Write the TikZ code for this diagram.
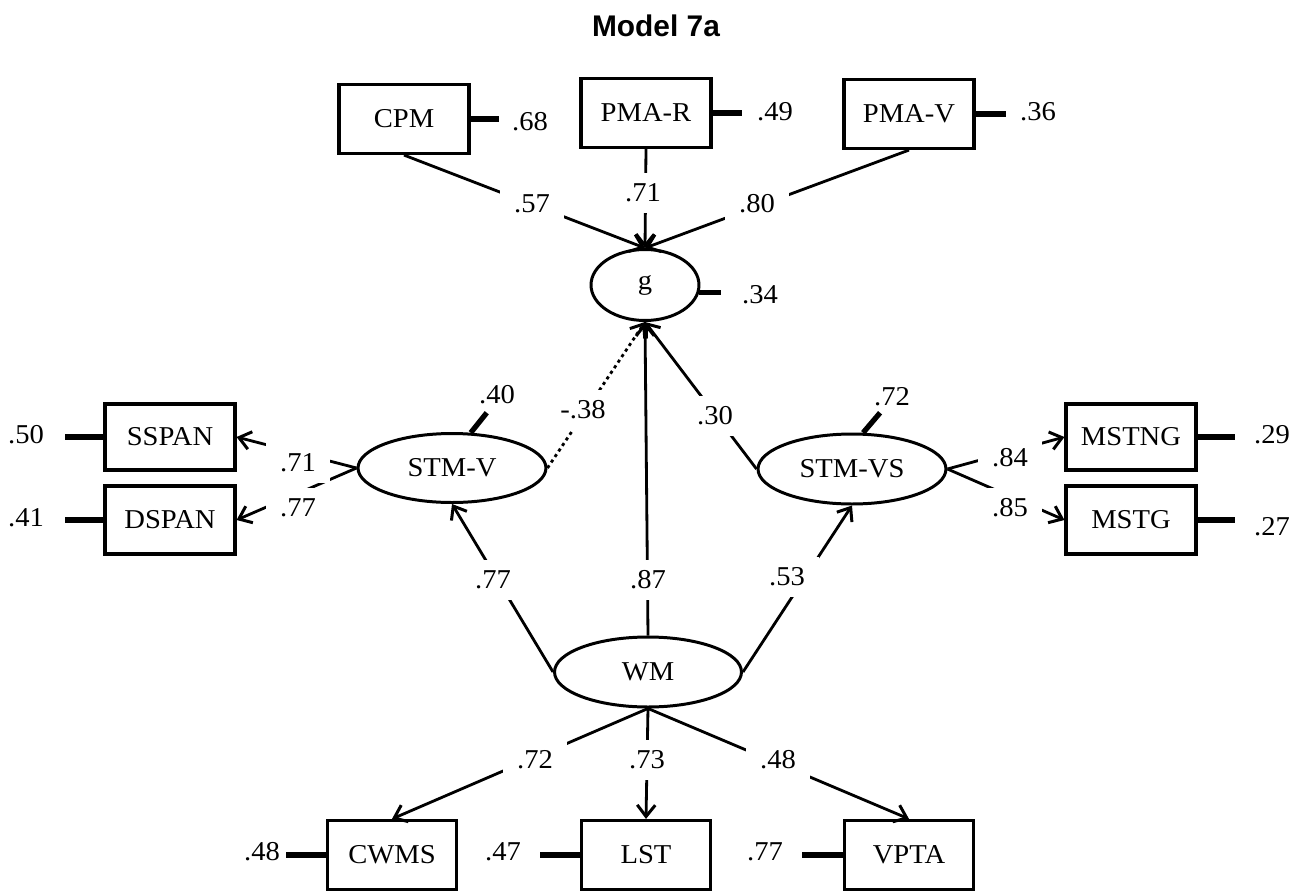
\documentclass[tikz,border=0pt]{standalone}
\usepackage{fontspec}
\setmainfont{Liberation Serif}[FakeStretch=1.05]
\newfontfamily\headfont{Liberation Sans}
\usepackage{tikz}
\usetikzlibrary{shapes.geometric}
\usetikzlibrary{arrows.meta}

\begin{document}
\begin{tikzpicture}[x=0.02cm,y=-0.02cm]
\tikzstyle{obs}=[rectangle,draw=black,line width=1.8pt,minimum width=2.6cm,minimum height=1.38cm,inner sep=0pt,font=\fontsize{15.5}{17}\selectfont]
\tikzstyle{lat}=[ellipse,draw=black,line width=1.7pt,inner sep=0pt,font=\fontsize{15.5}{17}\selectfont]
\tikzstyle{coef}=[fill=white,inner xsep=8pt,inner ysep=6pt,font=\fontsize{15.5}{17}\selectfont]
\tikzstyle{res}=[inner sep=1pt,font=\fontsize{15.5}{17}\selectfont]
\tikzstyle{load}=[-{Straight Barb[length=2.3mm,width=3.6mm,line width=1.7pt]},line width=1.6pt]
\tikzstyle{err}=[line width=3pt]

\useasboundingbox (0,0) rectangle (1303,893);

\node (title) at(656,26) {\headfont\bfseries\fontsize{17}{20}\selectfont Model 7a};

\node [obs] (cpm) at(404,119) {CPM};
\node [obs] (pmar) at(646,113) {PMA-R};
\node [obs] (pmav) at(909,114) {PMA-V};
\node [lat,minimum width=2.16cm,minimum height=1.42cm] (g) at(645,285) {g};
\node [lat,minimum width=3.76cm,minimum height=1.38cm] (stmv) at(452,468) {STM-V};
\node [lat,minimum width=3.76cm,minimum height=1.40cm] (stmvs) at(852,469) {STM-VS};
\node [obs,minimum height=1.32cm] (sspan) at(170,437) {SSPAN};
\node [obs,minimum height=1.36cm] (dspan) at(170,520) {DSPAN};
\node [obs,minimum height=1.32cm] (mstng) at(1131,437) {MSTNG};
\node [obs,minimum height=1.36cm] (mstg) at(1131,520) {MSTG};
\node [lat,minimum width=3.74cm,minimum height=1.40cm] (wm) at(648,672) {WM};
\node [obs,minimum width=2.58cm] (cwms) at(392,855) {CWMS};
\node [obs,minimum width=2.58cm] (lst) at(646,855) {LST};
\node [obs,minimum width=2.58cm] (vpta) at(909,855) {VPTA};

\draw[load] (cpm.south) -- (g.north);
\draw[load] (pmar.south) -- (g.north);
\draw[load] (pmav.south) -- (g.north);
\draw[load,dash pattern=on 1.8pt off 2pt] (stmv.east) -- (g.south);
\draw[load] (stmvs.west) -- (g.south);
\draw[load] (wm.north) -- (g.south);
\draw[load] (stmv.west) -- (sspan.east);
\draw[load] (stmv.west) -- (dspan.east);
\draw[load] (stmvs.east) -- (mstng.west);
\draw[load] (stmvs.east) -- (mstg.west);
\draw[load] (wm.west) -- (stmv.south);
\draw[load] (wm.east) -- (stmvs.south);
\draw[load] (wm.south) -- (cwms.north);
\draw[load] (wm.south) -- (lst.north);
\draw[load] (wm.south) -- (vpta.north);

\node [coef] (c1) at(532,204) {.57};
\node [coef] (c2) at(643,193) {.71};
\node [coef] (c3) at(757,204) {.80};
\node [coef] (c4) at(583,410) {-.38};
\node [coef] (c5) at(715,416) {.30};
\node [coef] (c6) at(298,463) {.71};
\node [coef] (c7) at(298,508) {.77};
\node [coef] (c8) at(1010,458) {.84};
\node [coef] (c9) at(1010,508) {.85};
\node [coef] (c10) at(493,580) {.77};
\node [coef] (c11) at(648,580) {.87};
\node [coef] (c12) at(787,577) {.53};
\node [coef] (c13) at(535,760) {.72};
\node [coef] (c14) at(647,760) {.73};
\node [coef] (c15) at(778,760) {.48};

\draw[err] (cpm.east) -- ++(28,0) coordinate (cpm-e);
\draw[err] (pmar.east) -- ++(29,0) coordinate (pmar-e);
\draw[err] (pmav.east) -- ++(30,0) coordinate (pmav-e);
\draw[err] (g.-8) -- ++(22,0) coordinate (g-e);
\draw[err] (stmv.62) -- ++(16,-20) coordinate (stmv-e);
\draw[err] (stmvs.73) -- ++(17,-20) coordinate (stmvs-e);
\draw[err] (sspan.west) -- ++(-38,0) coordinate (sspan-e);
\draw[err] (dspan.west) -- ++(-38,0) coordinate (dspan-e);
\draw[err] (mstng.east) -- ++(37,0) coordinate (mstng-e);
\draw[err] (mstg.east) -- ++(37,0) coordinate (mstg-e);
\draw[err] (cwms.west) -- ++(-40,0) coordinate (cwms-e);
\draw[err] (lst.west) -- ++(-40,0) coordinate (lst-e);
\draw[err] (vpta.west) -- ++(-41,0) coordinate (vpta-e);

\node [res] (r1) at(530,122) {.68};
\node [res] (r2) at(775,112) {.49};
\node [res] (r3) at(1038,112) {.36};
\node [res] (r4) at(760,295) {.34};
\node [res] (r5) at(497,395) {.40};
\node [res] (r6) at(892,397) {.72};
\node [res] (r7) at(26,435) {.50};
\node [res] (r8) at(26,518) {.41};
\node [res] (r9) at(1272,435) {.29};
\node [res] (r10) at(1272,527) {.27};
\node [res] (r11) at(262,852) {.48};
\node [res] (r12) at(503,852) {.47};
\node [res] (r13) at(765,852) {.77};
\end{tikzpicture}
\end{document}
